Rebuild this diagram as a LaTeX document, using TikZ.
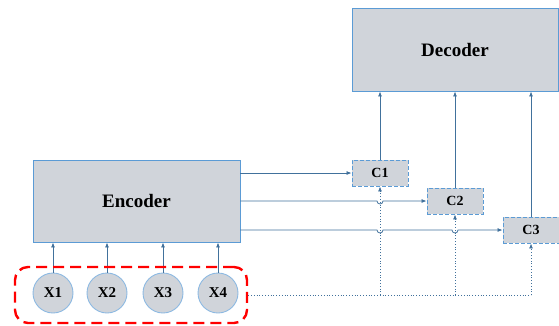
\documentclass[tikz,border=0pt]{standalone}
\usepackage{fontspec}
\setmainfont{Liberation Serif}
\usetikzlibrary{arrows.meta,calc}
\definecolor{boxgray}{RGB}{208,212,218}
\definecolor{edgeblue}{RGB}{91,155,213}
\definecolor{lineblue}{RGB}{65,113,156}

\begin{document}
\begin{tikzpicture}[x=1pt,y=-1pt,
  block/.style = {draw=edgeblue, fill=boxgray, line width=0.9pt,
    font=\bfseries\fontsize{19}{22}\selectfont, inner sep=0pt},
  ctx/.style = {draw=edgeblue, fill=boxgray, line width=0.9pt,
    dash pattern=on 4pt off 2pt, minimum width=56pt, minimum height=26pt,
    font=\bfseries\fontsize{14}{16}\selectfont, inner sep=0pt},
  inp/.style = {circle, draw=edgeblue!70, fill=boxgray, line width=0.9pt,
    minimum size=40pt, font=\bfseries\fontsize{15}{17}\selectfont, inner sep=0pt},
  link/.style = {draw=lineblue, line width=0.8pt, -{Latex[length=5pt,width=4pt]}},
  feed/.style = {draw=lineblue, line width=0.8pt, dotted, -{Latex[length=5pt,width=4pt]}}]
  \useasboundingbox (0,0) rectangle (559,325);

  \node[block, minimum width=206pt, minimum height=83pt] (dec) at (455,49.5) {Decoder};
  \node[block, minimum width=207pt, minimum height=82pt] (enc) at (136.5,201) {Encoder};
  \node[ctx] (c1) at (380,173) {C1};
  \node[ctx] (c2) at (455,201) {C2};
  \node[ctx] (c3) at (531,230) {C3};

  % inputs and their frame
  \foreach \n/\x in {1/53,2/107,3/163,4/218}{
    \node[inp] (x\n) at (\x,293) {X\n};
    \draw[link] (x\n.north) -- (x\n.north |- enc.south);
  }
  \node[draw=red, line width=2.4pt, dash pattern=on 11pt off 6pt, rounded corners=13pt,
    minimum width=232pt, minimum height=56pt] (frame) at (131,295) {};

  % encoder to contexts, hopping over the dotted lines
  \draw[link] (enc.east |- c1.west) -- (c1.west);
  \draw[link] (enc.east |- c2.west) -- ($(c1.south |- c2.west)+(-3,0)$)
    arc[start angle=180, end angle=0, radius=3] -- (c2.west);
  \draw[link] (enc.east |- c3.west) -- ($(c1.south |- c3.west)+(-3,0)$)
    arc[start angle=180, end angle=0, radius=3]
    -- ($(c2.south |- c3.west)+(-3,0)$)
    arc[start angle=180, end angle=0, radius=3] -- (c3.west);

  % contexts to decoder
  \foreach \c in {c1,c2,c3}
    \draw[link] (\c.north) -- (\c.north |- dec.south);

  % dotted feedback from the inputs
  \draw[lineblue, line width=0.8pt, dotted] (frame.east) -- (frame.east -| c3.south);
  \foreach \c in {c1,c2,c3}
    \draw[feed] (frame.east -| \c.south) -- (\c.south);
\end{tikzpicture}
\end{document}
